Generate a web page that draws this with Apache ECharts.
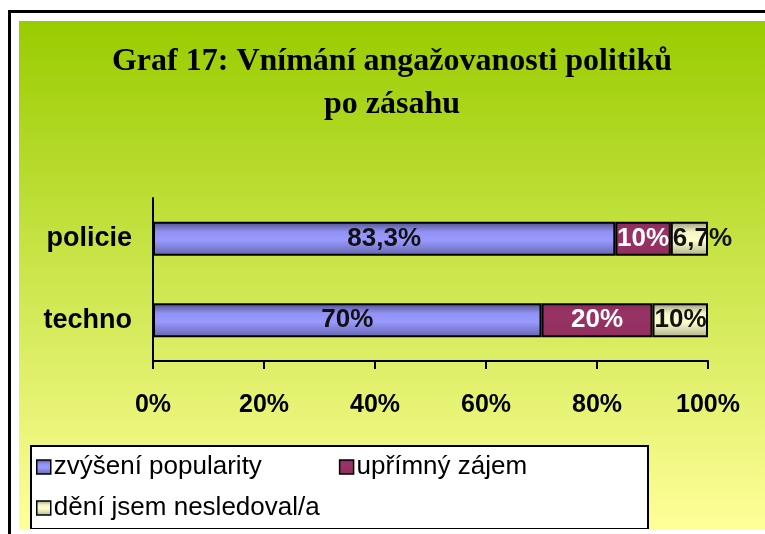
<!DOCTYPE html>
<html>
<head>
<meta charset="utf-8">
<script src="https://cdn.jsdelivr.net/npm/echarts@6/dist/echarts.min.js"></script>
<style>
  html, body { margin: 0; padding: 0; background: #fff; width: 765px; height: 534px; overflow: hidden; }
  #frame { position: absolute; left: 8px; top: 10px; width: 800px; height: 600px; border-left: 3px solid #000; border-top: 3px solid #000; }
  #chart { position: absolute; left: 19px; top: 21px; width: 746px; height: 508px; }
</style>
</head>
<body>
<div id="frame"></div>
<div id="chart"></div>
<script>
const titleLines = ['Graf 17: Vnímání angažovanosti politiků', 'po zásahu'];
const categories = ['policie', 'techno'];
const seriesNames = ['zvýšení popularity', 'upřímný zájem', 'dění jsem nesledoval/a'];
const popularity = [83.3, 70];
const interest = [10, 20];
const notFollowed = [6.7, 10];
const xTicks = [0, 20, 40, 60, 80, 100];

const fmt = v => String(v).replace('.', ',') + '%';
const vgrad = stops => new echarts.graphic.LinearGradient(0, 0, 0, 1, stops.map(s => ({offset: s[0], color: s[1]})));

const blueFill = vgrad([[0, '#50508a'], [0.3, '#9292f4'], [0.55, '#9999ff'], [1, '#6464aa']]);
const maroonFill = vgrad([[0, '#862c59'], [0.3, '#993366'], [1, '#912f5e']]);
const creamFill = vgrad([[0, '#9a9a7a'], [0.3, '#f4f4c6'], [0.55, '#ffffcc'], [1, '#b0b08e']]);

const labelFont = { fontFamily: 'Liberation Sans', fontWeight: 'bold', fontSize: 25 };

const chart = echarts.init(document.getElementById('chart'), null, { renderer: 'canvas' });
chart.setOption({
  animation: false,
  backgroundColor: vgrad([[0, '#99cc00'], [1, '#ffff99']]),
  title: {
    text: titleLines.join('\n'),
    left: 'center',
    top: 19,
    padding: 0,
    textStyle: { fontFamily: 'Liberation Serif', fontWeight: 'bold', fontSize: 32, lineHeight: 43, color: '#000' }
  },
  graphic: [{
    type: 'rect', left: 11, top: 424, z: 0,
    shape: { width: 617, height: 83 },
    style: { fill: '#fff', stroke: '#000', lineWidth: 2 }
  }],
  legend: [{
    data: [seriesNames[0], seriesNames[1]],
    left: 17, top: 432, padding: 0, itemGap: 77,
    itemWidth: 14, itemHeight: 14, icon: 'rect',
    itemStyle: { borderColor: '#000', borderWidth: 1.5 },
    textStyle: { fontFamily: 'Liberation Sans', fontSize: 26, lineHeight: 28, color: '#000', padding: [0, 0, 0, -2] },
    z: 5
  }, {
    data: [seriesNames[2]],
    left: 17, top: 473, padding: 0,
    itemWidth: 14, itemHeight: 14, icon: 'rect',
    itemStyle: { borderColor: '#000', borderWidth: 1.5 },
    textStyle: { fontFamily: 'Liberation Sans', fontSize: 26, lineHeight: 28, color: '#000', padding: [0, 0, 0, -2] },
    z: 5
  }],
  grid: { left: 134, top: 177, width: 555, height: 163, containLabel: false },
  xAxis: {
    type: 'value', min: 0, max: 100, interval: 20,
    axisLine: { show: true, lineStyle: { color: '#000', width: 2 } },
    axisTick: { show: true, length: 8, lineStyle: { color: '#000', width: 2 } },
    splitLine: { show: false },
    axisLabel: {
      margin: 32, color: '#000', ...labelFont,
      formatter: v => xTicks.includes(v) ? v + '%' : ''
    }
  },
  yAxis: {
    type: 'category', data: categories, inverse: true,
    axisLine: { show: true, lineStyle: { color: '#000', width: 2 } },
    axisTick: { show: false },
    axisLabel: { margin: 21, color: '#000', ...labelFont, fontSize: 27 }
  },
  series: [{
    name: seriesNames[0], type: 'bar', stack: 'total', barWidth: 34, data: popularity,
    itemStyle: { color: blueFill, borderColor: '#000', borderWidth: 2 },
    label: { show: true, position: 'inside', formatter: p => fmt(p.value), color: '#111', ...labelFont, fontSize: 26 }
  }, {
    name: seriesNames[1], type: 'bar', stack: 'total', barWidth: 34, data: interest,
    itemStyle: { color: maroonFill, borderColor: '#000', borderWidth: 2 },
    label: { show: true, position: 'inside', formatter: p => fmt(p.value), color: '#fff', ...labelFont, fontSize: 26 }
  }, {
    name: seriesNames[2], type: 'bar', stack: 'total', barWidth: 34, data: notFollowed,
    itemStyle: { color: creamFill, borderColor: '#000', borderWidth: 2 },
    label: { show: true, position: 'insideLeft', distance: 2, formatter: p => fmt(p.value), color: '#111', ...labelFont, fontSize: 26 }
  }]
});
</script>
</body>
</html>
